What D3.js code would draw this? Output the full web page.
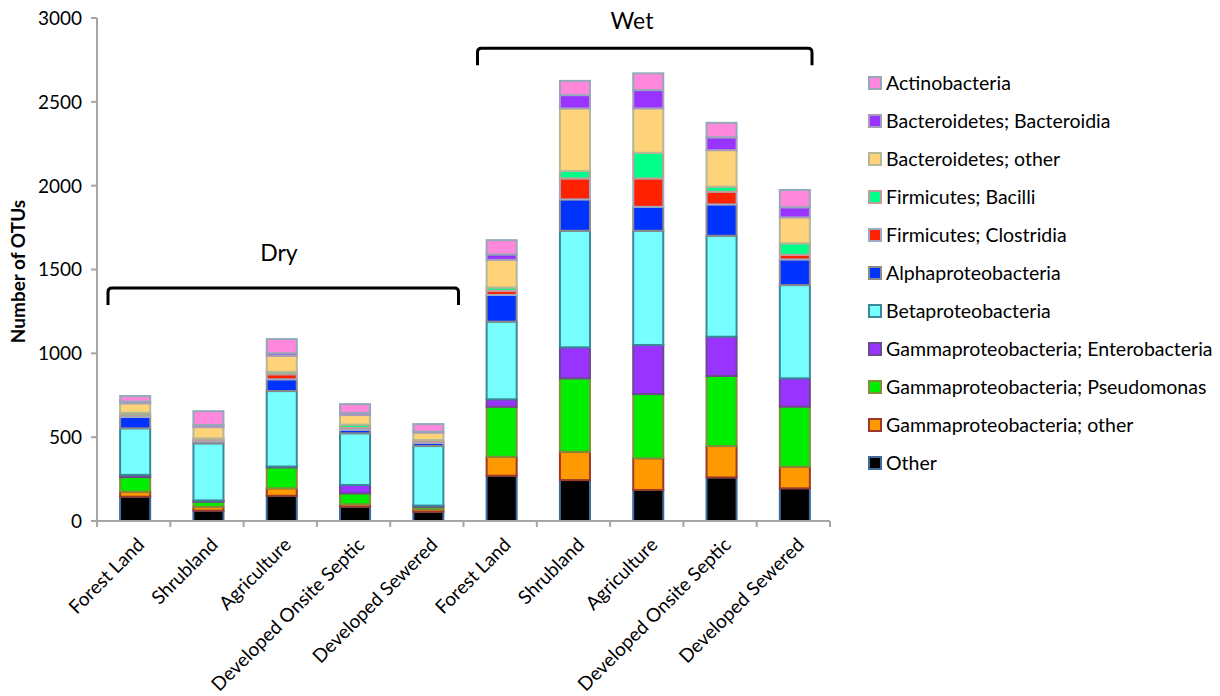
<!DOCTYPE html>
<html>
<head>
<meta charset="utf-8">
<script src="https://cdn.jsdelivr.net/npm/d3@7"></script>
<style>
  body { margin: 0; background: #fff; }
  text { font-family: Lato, "Open Sans", sans-serif; fill: #000; }
</style>
</head>
<body>
<div name="chart"></div>
<script>
// categories along the x axis (5 dry sites, then 5 wet sites)
const sites = ['Forest Land', 'Shrubland', 'Agriculture', 'Developed Onsite Septic', 'Developed Sewered',
               'Forest Land', 'Shrubland', 'Agriculture', 'Developed Onsite Septic', 'Developed Sewered'];

// series, stacked bottom -> top
const other          = [145,  62, 150,  85,  55, 270, 244, 185, 260, 195];
const gammaOther     = [ 30,  23,  45,  15,  15, 113, 169, 189, 187, 129];
const pseudomonas    = [ 87,  30, 125,  65,  15, 298, 438, 383, 418, 358];
const enterobacteria = [ 13,   8,   5,  50,   7,  45, 185, 293, 234, 169];
const betaproteo     = [278, 340, 450, 308, 355, 463, 695, 681, 602, 556];
const alphaproteo    = [ 67,  12,  70,  20,  18, 159, 187, 143, 187, 153];
const clostridia     = [ 10,   8,  30,  12,   8,  25, 125, 169,  76,  28];
const bacilli        = [ 15,  10,  15,  20,  10,  20,  44, 153,  30,  68];
const bactOther      = [ 57,  67,  95,  57,  44, 165, 374, 265, 218, 155];
const bacteroidia    = [ 10,  12,  15,  13,   6,  32,  79, 109,  76,  60];
const actino         = [ 33,  83,  85,  52,  45,  85,  85, 100,  87, 103];

const seriesNames = ['Other', 'Gammaproteobacteria; other', 'Gammaproteobacteria; Pseudomonas',
  'Gammaproteobacteria; Enterobacteria', 'Betaproteobacteria', 'Alphaproteobacteria',
  'Firmicutes; Clostridia', 'Firmicutes; Bacilli', 'Bacteroidetes; other',
  'Bacteroidetes; Bacteroidia', 'Actinobacteria'];
const seriesValues = [other, gammaOther, pseudomonas, enterobacteria, betaproteo, alphaproteo,
  clostridia, bacilli, bactOther, bacteroidia, actino];
const fills   = ['#000000', '#ff9900', '#00ee00', '#9933ff', '#77ffff', '#0033ff',
                 '#ff2200', '#00ff88', '#ffd37a', '#9933ff', '#ff88dd'];
const strokes = ['#3f6a9a', '#9b3a2a', '#7f8f3a', '#6b4a8f', '#3a8899', '#8a8a8a',
                 '#9fa9c4', '#c49a9a', '#b3b896', '#a99bbd', '#93a9b8'];
const yTicks = [0, 500, 1000, 1500, 2000, 2500, 3000];

const svgWidth = 1220, svgHeight = 696;
const axisColor = '#a6a6a6';

const rows = sites.map((s, i) => {
  const r = { key: i };
  seriesNames.forEach((n, j) => { r[n] = seriesValues[j][i]; });
  return r;
});

const svg = d3.select('div[name=chart]').append('svg')
  .attr('width', svgWidth)
  .attr('height', svgHeight);

const x = d3.scaleBand().domain(d3.range(sites.length)).range([97, 830]);
const y = d3.scaleLinear().domain([0, 3000]).range([521, 18]);
const barWidth = x.bandwidth() * 0.41;

const stack = d3.stack().keys(seriesNames);
const layers = stack(rows);

// Bars
svg.selectAll('g.layer')
  .data(layers)
  .enter()
  .append('g')
  .attr('class', 'layer')
  .attr('fill', (d, i) => fills[i])
  .attr('stroke', (d, i) => strokes[i])
  .attr('stroke-width', 2)
  .selectAll('rect')
  .data(d => d)
  .enter()
  .append('rect')
  .attr('x', d => x(d.data.key) + x.bandwidth() / 2 - barWidth / 2 + 1.5)
  .attr('y', d => y(d[1]))
  .attr('width', barWidth)
  .attr('height', d => y(d[0]) - y(d[1]));

// Y axis
const yAxis = svg.append('g');
yAxis.append('line')
  .attr('x1', x.range()[0]).attr('x2', x.range()[0])
  .attr('y1', y(0)).attr('y2', y(3000))
  .attr('stroke', axisColor).attr('stroke-width', 2);
yTicks.forEach(t => {
  yAxis.append('line')
    .attr('x1', x.range()[0] - 6).attr('x2', x.range()[0])
    .attr('y1', y(t)).attr('y2', y(t))
    .attr('stroke', axisColor).attr('stroke-width', 2);
  yAxis.append('text')
    .attr('x', x.range()[0] - 15)
    .attr('y', y(t))
    .attr('dy', '0.36em')
    .attr('text-anchor', 'end')
    .style('font-size', '19px')
    .text(t);
});

// X axis (ticks between categories)
const xAxis = svg.append('g');
xAxis.append('line')
  .attr('x1', x.range()[0] - 2).attr('x2', x.range()[1])
  .attr('y1', y(0)).attr('y2', y(0))
  .attr('stroke', axisColor).attr('stroke-width', 2);
d3.range(sites.length + 1).forEach(i => {
  const xx = x.range()[0] + i * x.step();
  xAxis.append('line')
    .attr('x1', xx).attr('x2', xx)
    .attr('y1', y(0)).attr('y2', y(0) + 6)
    .attr('stroke', axisColor).attr('stroke-width', 2);
});
xAxis.selectAll('text.cat')
  .data(sites)
  .enter()
  .append('text')
  .attr('class', 'cat')
  .attr('text-anchor', 'end')
  .style('font-size', '19px')
  .attr('transform', (d, i) => `translate(${x(i) + x.bandwidth() / 2 + 12}, 546) rotate(-45)`)
  .text(d => d);

// Y title
svg.append('text')
  .attr('transform', `translate(25, ${y(1500) + 2}) rotate(-90)`)
  .attr('text-anchor', 'middle')
  .style('font-size', '19px')
  .style('font-weight', 'bold')
  .text('Number of OTUs');

// Dry / Wet brackets
function bracket(x0, x1, yy, label, labelX, labelY) {
  const r = 4, drop = 17;
  svg.append('path')
    .attr('d', `M${x0},${yy + drop} L${x0},${yy + r} Q${x0},${yy} ${x0 + r},${yy} L${x1 - r},${yy} Q${x1},${yy} ${x1},${yy + r} L${x1},${yy + drop}`)
    .attr('fill', 'none')
    .attr('stroke', '#000')
    .attr('stroke-width', 3);
  svg.append('text')
    .attr('x', labelX)
    .attr('y', labelY)
    .attr('text-anchor', 'middle')
    .style('font-size', '23px')
    .text(label);
}
const dryY = y(1390), wetY = y(2820);
bracket(x(0) + 11, x(4) + x.step() - 5, dryY, 'Dry', 279, dryY - 27);
bracket(x(5) + 14, x(9) + x.step() - 18, wetY, 'Wet', 632, wetY - 19);

// Legend
const legend = svg.append('g');
const legendOrder = d3.range(seriesNames.length).reverse();
legendOrder.forEach((j, k) => {
  const cy = 83 + k * 38;
  legend.append('rect')
    .attr('x', 869).attr('y', cy - 6)
    .attr('width', 12).attr('height', 12)
    .attr('fill', fills[j])
    .attr('stroke', strokes[j])
    .attr('stroke-width', 2);
  legend.append('text')
    .attr('x', 886)
    .attr('y', cy + 7)
    .style('font-size', '19.5px')
    .text(seriesNames[j]);
});
</script>
</body>
</html>
